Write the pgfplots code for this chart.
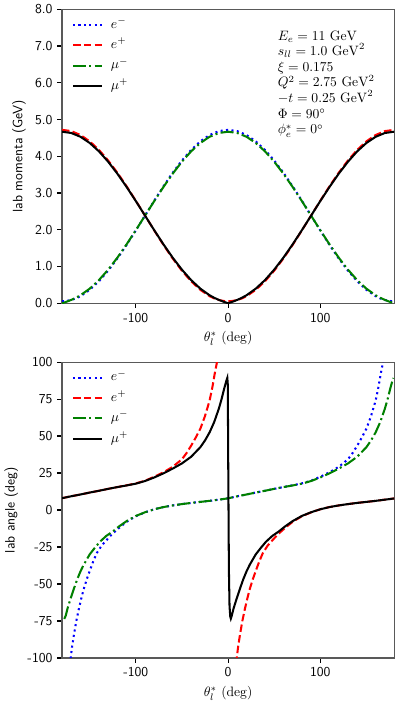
\documentclass[border=0pt]{standalone}
\usepackage{pgfplots}
\pgfplotsset{compat=1.18}
\usetikzlibrary{calc}
\definecolor{mplgreen}{rgb}{0,0.5,0}

\pgfplotsset{
  labaxis/.style={
    scale only axis,
    width=244pt,
    xmin=-180, xmax=180,
    xtick={-100,0,100},
    xticklabels={-100,0,100},
    tick align=outside,
    tick pos=left,
    major tick length=3.5pt,
    axis line style={black!65, line width=0.8pt},
    every tick/.style={black, line width=0.8pt},
    ticklabel style={font=\sffamily},
    /pgf/number format/assume math mode=true,
    xlabel={$\theta_l^*$ (deg)},
    ylabel style={font=\sffamily},
    unbounded coords=jump,
    legend cell align=left,
    legend style={at={(0.017,0.99)}, anchor=north west, draw=none, fill=none,
      row sep=1pt, column sep=3.5pt,
      nodes={inner sep=2pt, text height=7.5pt, text depth=2.5pt}},
    legend image code/.code={\draw[#1] (0pt,0pt) -- (21.6pt,0pt);},
  },
  elec/.style={blue, line width=1.5pt, dash pattern=on 1.5pt off 2.5pt},
  posi/.style={red, line width=1.5pt, dash pattern=on 5.5pt off 2.4pt},
  muon/.style={mplgreen, line width=1.5pt, dash pattern=on 9.6pt off 2.4pt on 1.5pt off 2.4pt},
  amuon/.style={black, line width=1.5pt},
}

\begin{document}
\begin{tikzpicture}
\begin{axis}[labaxis, name=top,
    height=216pt,
    ymin=0, ymax=8,
    ytick={0,1,...,8},
    yticklabel style={/pgf/number format/.cd, fixed, fixed zerofill, precision=1},
    ylabel={lab momenta (GeV)}]
\addplot[elec] coordinates {
(-180,0.054) (-175,0.063) (-170,0.089) (-165,0.132) (-160,0.193) (-150,0.365) (-140,0.598)
(-130,0.886) (-120,1.219) (-110,1.588) (-100,1.981) (-90,2.386) (-80,2.791) (-70,3.184)
(-60,3.553) (-50,3.886) (-40,4.174) (-30,4.407) (-20,4.579) (-10,4.685) (0,4.720)
(10,4.685) (20,4.579) (30,4.407) (40,4.174) (50,3.886) (60,3.553) (70,3.184) (80,2.791)
(90,2.386) (100,1.981) (110,1.588) (120,1.219) (130,0.886) (140,0.598) (150,0.365)
(160,0.193) (165,0.132) (170,0.089) (175,0.063) (180,0.054)};
\addlegendentry{$e^-$}
\addplot[posi] coordinates {
(-180,4.720) (-170,4.685) (-160,4.579) (-150,4.407) (-140,4.174) (-130,3.886) (-120,3.553)
(-110,3.184) (-100,2.791) (-90,2.386) (-80,1.981) (-70,1.588) (-60,1.219) (-50,0.886)
(-40,0.598) (-30,0.365) (-20,0.193) (-15,0.132) (-10,0.089) (-5,0.063) (0,0.054)
(5,0.063) (10,0.089) (15,0.132) (20,0.193) (30,0.365) (40,0.598) (50,0.886) (60,1.219)
(70,1.588) (80,1.981) (90,2.386) (100,2.791) (110,3.184) (120,3.553) (130,3.886)
(140,4.174) (150,4.407) (160,4.579) (170,4.685) (180,4.720)};
\addlegendentry{$e^+$}
\addplot[muon] coordinates {
(-180,0.0) (-175,0.043) (-170,0.092) (-165,0.149) (-160,0.218) (-150,0.397) (-140,0.630)
(-130,0.914) (-120,1.241) (-110,1.603) (-100,1.988) (-90,2.385) (-80,2.782) (-70,3.166)
(-60,3.527) (-50,3.853) (-40,4.135) (-30,4.363) (-20,4.531) (-10,4.634) (0,4.669)
(10,4.634) (20,4.531) (30,4.363) (40,4.135) (50,3.853) (60,3.527) (70,3.166) (80,2.782)
(90,2.385) (100,1.988) (110,1.603) (120,1.241) (130,0.914) (140,0.630) (150,0.397)
(160,0.218) (165,0.149) (170,0.092) (175,0.043) (180,0.0)};
\addlegendentry{$\mu^-$}
\addplot[amuon] coordinates {
(-180,4.669) (-170,4.634) (-160,4.531) (-150,4.363) (-140,4.135) (-130,3.853) (-120,3.527)
(-110,3.166) (-100,2.782) (-90,2.385) (-80,1.988) (-70,1.603) (-60,1.241) (-50,0.914)
(-40,0.630) (-30,0.397) (-20,0.218) (-15,0.149) (-10,0.092) (-5,0.043) (0,0.0)
(5,0.043) (10,0.092) (15,0.149) (20,0.218) (30,0.397) (40,0.630) (50,0.914) (60,1.241)
(70,1.603) (80,1.988) (90,2.385) (100,2.782) (110,3.166) (120,3.527) (130,3.853)
(140,4.135) (150,4.363) (160,4.531) (170,4.634) (180,4.669)};
\addlegendentry{$\mu^+$}
\node[anchor=north west, align=left, inner sep=0pt, font=\fontsize{10}{11.5}\selectfont]
  at (rel axis cs:0.649,0.928) {%
  $E_e = 11\ \mathrm{GeV}$\\
  $s_{ll} = 1.0\ \mathrm{GeV}^2$\\
  $\xi = 0.175$\\
  $Q^2 = 2.75\ \mathrm{GeV}^2$\\
  $-t = 0.25\ \mathrm{GeV}^2$\\
  $\Phi = 90^\circ$\\
  $\phi^*_e = 0^\circ$};
\end{axis}

\begin{axis}[labaxis,
    at={($(top.south west)-(0,43.2pt)$)}, anchor=north west,
    height=217.4pt,
    ymin=-100, ymax=100,
    ytick={-100,-75,...,100},
    ylabel={lab angle (deg)}]
\addplot[elec] coordinates {
(-171,-104) (-170.6,-100) (-169,-92) (-167.1,-84.4) (-164.5,-75) (-161.7,-66.7) (-159,-59.5)
(-156.5,-53.5) (-153,-46.5) (-149.4,-40.2) (-146,-34.5) (-142.3,-29.1) (-137,-24)
(-131.7,-20.3) (-126.5,-16.8) (-121.1,-13.7) (-116,-11) (-110,-8) (-100,-4.2) (-90,-1.6)
(-80,0.5) (-70,2) (-60,3.1) (-50,4) (-40,4.8) (-30,5.5) (-20,6.2) (-10,7) (0,7.9)
(10,9.3) (20,10.5) (30,11.8) (40,13) (50,14.3) (60,15.5) (70,16.7) (80,18) (90,19.8)
(100,22.5) (110,25.5) (120,29.2) (130,34.3) (135,38.5) (140,43.5) (145,49) (150,55)
(155,63.5) (160,74) (163,83) (165.5,92) (168,100) (168.7,104)};
\addlegendentry{$e^-$}
\addplot[posi] coordinates {
(-180,8) (-170,9.3) (-160,10.5) (-150,11.8) (-140,13) (-130,14.3) (-120,15.5) (-110,16.7)
(-100,18) (-90,19.8) (-80,22.5) (-70,25.5) (-60,29.2) (-50,34.3) (-45,38.5) (-40,43.5)
(-35,49) (-30,55) (-25,63.5) (-20,74) (-17,83) (-14.5,92) (-12,100) (-11.3,104)
(0,nan)
(9.0,-104) (9.4,-100) (11,-92) (12.9,-84.4) (15.5,-75) (18.3,-66.7) (21,-59.5) (23.5,-53.5)
(27,-46.5) (30.6,-40.2) (34,-34.5) (37.7,-29.1) (43,-24) (48.3,-20.3) (53.5,-16.8)
(58.9,-13.7) (64,-11) (70,-8) (80,-4.2) (90,-1.6) (100,0.5) (110,2) (120,3.1) (130,4)
(140,4.8) (150,5.5) (160,6.2) (170,7) (180,7.8)};
\addlegendentry{$e^+$}
\addplot[muon] coordinates {
(-177.6,-73.6) (-176,-71.5) (-174,-66.5) (-171,-60.5) (-167,-53) (-163.5,-46.8) (-160,-41.5)
(-156.5,-37) (-150,-30) (-145,-26) (-139,-21.5) (-132,-17.5) (-125,-14.5) (-118,-11)
(-110,-7.5) (-100,-4) (-90,-1.5) (-80,0.5) (-70,2) (-60,3.1) (-50,4) (-40,4.8) (-30,5.5)
(-20,6.2) (-10,7) (0,7.9) (10,9.3) (20,10.5) (30,11.8) (40,13) (50,14.3) (60,15.5)
(70,16.6) (80,17.8) (90,19.6) (100,22) (110,24.8) (120,28) (130,31.5) (140,36)
(150,42.5) (155,47) (160,52.5) (165,59.5) (170,68.5) (173,75) (176,82.5) (178,87)
(179.2,89.3)};
\addlegendentry{$\mu^-$}
\addplot[amuon] coordinates {
(-180,8) (-170,9.3) (-160,10.5) (-150,11.8) (-140,13) (-130,14.3) (-120,15.5) (-110,16.6)
(-100,17.8) (-90,19.6) (-80,22) (-70,24.8) (-60,28) (-50,31.5) (-40,36) (-30,42.5)
(-25,47) (-20,52.5) (-15,59.5) (-10,68.5) (-7,75) (-4,82.5) (-2,87) (-0.8,89.3)
(-0.3,85) (0.3,20) (0.9,-40) (1.6,-65) (2.4,-72) (3.0,-73.4) (4,-71.5) (6,-66.5)
(9,-60.5) (13,-53) (16.5,-46.8) (20,-41.5) (23.5,-37) (30,-30) (35,-26) (41,-21.5)
(48,-17.5) (55,-14.5) (62,-11) (70,-7.5) (80,-4) (90,-1.5) (100,0.5) (110,2) (120,3.1)
(130,4) (140,4.8) (150,5.5) (160,6.2) (170,7) (180,7.8)};
\addlegendentry{$\mu^+$}
\end{axis}
\end{tikzpicture}
\end{document}
